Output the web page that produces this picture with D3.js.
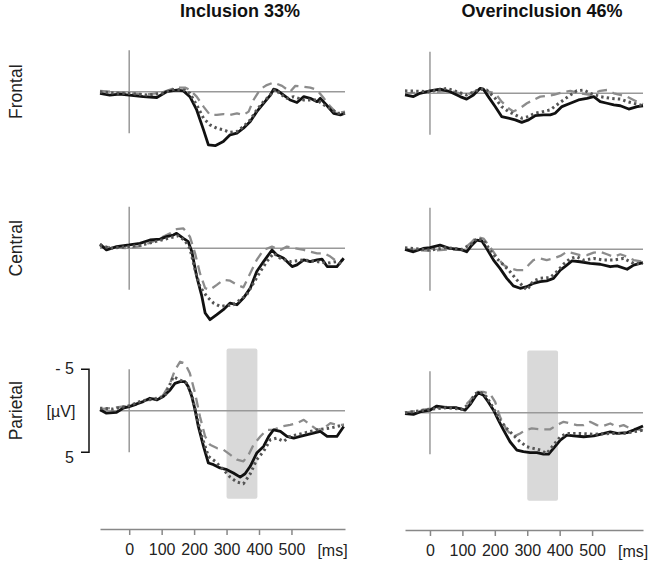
<!DOCTYPE html>
<html>
<head>
<meta charset="utf-8">
<script src="https://cdn.jsdelivr.net/npm/d3@7"></script>
<style>
  body { margin: 0; background: #fff; }
  svg { display: block; font-family: "Liberation Sans", Arial, sans-serif; }
</style>
</head>
<body>
<svg id="chart" width="652" height="566"></svg>
<script>
// columns / rows
var conditions = ["Inclusion 33%", "Overinclusion 46%"];
var regions = ["Frontal", "Central", "Parietal"];
var tickMs = [0, 100, 200, 300, 400, 500];
var window300 = [300, 395];  // shaded window (parietal)

// [ms, µV]; positive = down
// Inclusion
var incFrontalSolid = [[-90,0.2],[-60,0.4],[-30,0.3],[0,0.4],[43,0.6],[85,0.7],[115,0],[146,-0.2],[167,-0.1],[187,0.6],[208,2.2],[229,4.6],[244,6.4],[265,6.5],[290,6.0],[311,5.2],[332,5.0],[352,4.4],[373,3.6],[393,2.4],[414,1.4],[435,0.4],[445,-0.3],[455,-0.2],[476,0.4],[496,1.0],[517,1.3],[538,0.6],[558,0.8],[579,1.2],[589,0.8],[610,1.7],[630,2.6],[651,2.8],[665,2.6]];
var incFrontalDot = [[-90,0],[-40,0.2],[0,0.2],[60,0.4],[100,0.2],[140,-0.3],[170,-0.2],[187,0.2],[208,1.6],[229,3.2],[249,4.0],[270,4.4],[290,4.6],[311,4.9],[332,4.8],[352,4.2],[373,3.4],[393,2.2],[414,1.2],[435,0.4],[450,-0.3],[466,0.3],[486,0.8],[507,0.6],[538,1.0],[579,1.0],[600,1.6],[620,2.0],[640,2.6],[665,2.6]];
var incFrontalDash = [[-90,-0.1],[0,0.2],[60,0.3],[100,0.1],[146,-0.5],[172,-0.5],[187,-0.2],[208,0.6],[229,1.8],[249,2.8],[270,2.8],[290,2.7],[311,2.8],[332,2.6],[352,2.8],[368,2.4],[383,1.0],[404,-0.3],[424,-0.8],[445,-1.1],[471,-0.7],[496,0],[512,-0.7],[538,-0.6],[558,-0.5],[579,-0.2],[600,0.8],[620,1.8],[640,2.6],[665,2.4]];

var incCentralSolid = [[-90,-0.5],[-70,0.2],[-39,-0.2],[0,-0.4],[33,-0.6],[64,-1.0],[95,-1.1],[115,-1.4],[136,-1.6],[146,-1.8],[167,-1.2],[182,-0.8],[193,0.4],[208,3.4],[224,5.8],[234,7.8],[249,8.6],[270,8.0],[290,7.4],[311,6.6],[332,6.8],[352,6.0],[373,4.8],[393,2.8],[414,1.6],[440,0.2],[455,0.8],[476,1.2],[502,2.2],[517,2.0],[538,1.4],[558,1.6],[579,1.4],[594,1.3],[610,2.2],[640,2.2],[661,1.2]];
var incCentralDot = [[-90,-0.4],[-60,0],[0,-0.2],[40,-0.4],[80,-0.8],[120,-1.2],[150,-1.5],[170,-1.0],[187,0],[203,2.6],[218,4.6],[239,5.8],[260,6.6],[280,7.0],[301,6.9],[321,6.8],[342,6.2],[362,5.6],[383,4.2],[404,2.8],[424,1.6],[445,0.6],[466,1.2],[496,1.6],[538,1.4],[579,1.6],[610,1.8],[640,1.6],[661,2.0]];
var incCentralDash = [[-90,-0.2],[0,0],[40,-0.3],[85,-1.0],[126,-1.8],[146,-2.3],[167,-2.4],[187,-1.4],[203,0.6],[218,3.0],[234,4.8],[249,5.0],[270,4.4],[290,3.8],[311,3.9],[332,4.4],[352,4.7],[373,3.0],[393,1.4],[414,0.2],[440,-0.2],[466,0.2],[486,-0.2],[512,0],[538,0.2],[558,0.4],[579,0.6],[600,0.6],[620,1.0],[640,1.6],[661,1.4]];

var incParietalSolid = [[-90,-0.1],[-70,0.3],[-39,0.2],[-19,-0.3],[0,-0.5],[23,-0.8],[43,-1.1],[64,-1.5],[85,-1.3],[105,-1.7],[126,-2.5],[141,-3.3],[157,-3.5],[172,-3.5],[182,-2.9],[193,-1.7],[203,-0.1],[213,1.9],[229,4.3],[244,6.3],[260,6.5],[280,6.9],[301,7.1],[321,7.5],[342,8.0],[357,7.6],[373,6.7],[393,5.1],[414,4.3],[430,3.1],[445,2.3],[466,2.5],[486,3.1],[507,3.3],[527,3.1],[558,2.8],[589,2.5],[610,3.1],[640,3.1],[661,1.9]];
var incParietalDot = [[-90,-0.3],[-50,-0.2],[0,-0.6],[40,-1.2],[80,-1.4],[110,-1.8],[136,-4.1],[157,-3.7],[177,-3.3],[193,-1.9],[208,0.7],[224,3.1],[244,5.5],[265,6.1],[290,7.1],[311,8.0],[332,8.6],[352,8.8],[373,7.6],[393,5.9],[414,4.9],[435,3.5],[455,3.3],[476,3.7],[496,3.1],[538,2.7],[579,2.3],[620,2.1],[661,1.7]];
var incParietalDash = [[-90,-0.2],[-40,-0.4],[0,-0.6],[40,-1.1],[80,-1.5],[105,-1.9],[126,-3.3],[141,-4.9],[157,-5.9],[172,-5.7],[187,-4.5],[203,-2.1],[218,0.7],[234,3.1],[249,4.1],[270,4.5],[290,4.7],[311,5.3],[332,5.9],[352,6.1],[368,5.3],[383,4.1],[404,3.1],[424,2.3],[445,2.3],[471,1.9],[496,1.7],[517,1.5],[538,1.1],[558,1.7],[579,2.3],[600,2.1],[620,1.5],[640,1.7],[661,1.7]];

// Overinclusion
var overFrontalSolid = [[-77,0.2],[-51,0.4],[-31,0],[0,-0.3],[31,-0.5],[62,-0.2],[93,0.4],[113,0.7],[134,0.2],[155,-0.6],[165,-0.5],[180,0.4],[201,1.6],[221,2.8],[242,3.0],[263,3.2],[283,3.5],[304,3.2],[324,2.7],[350,2.6],[371,2.6],[386,2.4],[407,1.6],[433,1.2],[458,0.8],[484,0.6],[505,0.4],[525,1.0],[546,1.2],[567,1.4],[587,1.5],[613,1.9],[639,1.6],[657,1.5]];
var overFrontalDot = [[-77,-0.3],[0,-0.2],[52,-0.6],[113,0.2],[155,-0.5],[175,-0.4],[201,0.6],[221,1.6],[242,2.2],[263,2.6],[283,3.0],[304,2.8],[324,2.4],[350,2.2],[371,2.0],[391,1.4],[412,0.8],[433,0.2],[453,-0.3],[474,-0.4],[494,0],[525,0.4],[556,0.6],[587,0.7],[608,1.0],[628,1.2],[657,1.5]];
var overFrontalDash = [[-77,0],[0,-0.1],[60,-0.3],[113,0.2],[155,-0.5],[180,-0.2],[201,0],[221,1.0],[242,1.8],[257,2.2],[278,1.8],[299,1.2],[319,0.8],[340,0.4],[360,0.3],[381,0.2],[407,-0.1],[433,-0.3],[463,0],[494,0.2],[525,-0.3],[546,-0.4],[567,0],[587,0.2],[608,0.4],[628,0.8],[649,1.2],[657,1.3]];

var overCentralSolid = [[-77,0],[-51,0.3],[-21,-0.1],[0,-0.2],[31,-0.5],[62,-0.1],[93,0],[113,0.3],[129,-0.5],[144,-1.1],[160,-1.0],[175,-0.1],[196,1.3],[216,2.3],[237,3.5],[257,4.4],[278,4.7],[299,4.5],[319,4.1],[340,3.9],[360,3.8],[381,3.5],[402,2.5],[422,1.9],[438,1.4],[463,1.5],[494,1.7],[525,1.8],[556,2.1],[577,2.0],[608,2.4],[628,1.9],[657,1.6]];
var overCentralDot = [[-77,-0.2],[0,0.1],[50,-0.2],[100,0],[129,-0.7],[144,-1.3],[165,-1.1],[185,0.1],[206,1.1],[227,1.9],[247,2.7],[268,3.7],[288,4.5],[299,4.9],[319,3.8],[340,3.5],[371,3.4],[391,2.7],[412,1.8],[433,1.1],[453,0.9],[474,1.3],[505,1.1],[535,1.3],[566,1.3],[597,1.1],[628,1.7],[657,1.7]];
var overCentralDash = [[-77,0],[0,0.2],[60,0],[100,0.1],[124,-0.7],[144,-1.5],[165,-1.3],[185,-0.3],[206,0.9],[227,1.9],[247,2.3],[268,2.5],[288,2.5],[304,1.9],[319,1.3],[340,1.1],[360,1.3],[381,1.1],[402,0.8],[422,0.3],[443,0.5],[463,0.7],[484,0.7],[505,0.4],[525,0.3],[546,0.6],[566,0.9],[587,0.6],[608,0.9],[628,1.3],[657,1.5]];

var overParietalSolid = [[-77,0.1],[-51,0.2],[-31,-0.1],[0,-0.3],[21,-0.8],[52,-0.6],[82,-0.6],[108,-0.3],[124,-1.0],[139,-1.9],[149,-2.4],[165,-2.1],[180,-1.3],[196,-0.3],[211,0.9],[227,2.1],[247,3.5],[268,4.5],[288,4.7],[309,4.8],[330,4.8],[350,5.0],[366,5.0],[381,4.3],[402,3.3],[422,2.7],[443,2.8],[474,2.9],[505,2.8],[525,2.6],[556,2.3],[577,2.5],[608,2.4],[628,2.1],[657,1.6]];
var overParietalDot = [[-77,0],[0,-0.4],[50,-0.6],[100,-0.4],[124,-1.2],[139,-2.3],[155,-2.5],[175,-1.9],[196,-0.5],[216,0.9],[237,1.9],[257,2.7],[278,3.5],[299,4.1],[319,4.3],[340,4.5],[360,4.9],[381,3.9],[402,2.9],[422,2.5],[463,2.5],[505,2.6],[556,2.5],[597,2.5],[628,2.3],[657,2.1]];
var overParietalDash = [[-77,0],[0,-0.5],[50,-0.7],[100,-0.5],[124,-1.5],[144,-2.5],[165,-2.5],[185,-2.3],[201,-1.3],[216,0.5],[237,2.1],[257,2.9],[278,2.5],[294,2.1],[314,1.9],[340,2.0],[371,2.0],[391,1.5],[412,1.1],[433,1.3],[453,1.5],[474,1.5],[494,1.1],[515,1.5],[535,1.6],[556,1.3],[577,1.7],[597,1.5],[618,1.9],[638,2.0],[657,2.1]];

var series = [
  [[incFrontalDash, incFrontalSolid, incFrontalDot],
   [incCentralDash, incCentralSolid, incCentralDot],
   [incParietalDash, incParietalSolid, incParietalDot]],
  [[overFrontalDash, overFrontalSolid, overFrontalDot],
   [overCentralDash, overCentralSolid, overCentralDot],
   [overParietalDash, overParietalSolid, overParietalDot]]
];

// layout
var svg = d3.select("#chart");
var cols = [
  { domain: [-90, 665], range: [100, 345], title: 240, base: [91.7, 248.3, 410.7], axisY: 529 },
  { domain: [-77, 657], range: [405, 643], title: 542, base: [93.3, 249.3, 412.7], axisY: 530 }
];
var pxPerUV = 8.3;
var styles = [
  { stroke: "#8c8c8c", width: 2.3, dash: "10,6" },
  { stroke: "#111", width: 2.8, dash: null },
  { stroke: "#555", width: 3, dash: "2.4,3.2" }
];

cols.forEach(function (c, ci) {
  var x = d3.scaleLinear().domain(c.domain).range(c.range);

  svg.append("text")
    .attr("x", c.title).attr("y", 17)
    .attr("text-anchor", "middle")
    .style("font-weight", "bold").style("font-size", "18px").style("fill", "#111")
    .text(conditions[ci]);

  c.base.forEach(function (b, ri) {
    var y = d3.scaleLinear().domain([-5, 5]).range([b - 5 * pxPerUV, b + 5 * pxPerUV]);
    var g = svg.append("g");

    if (ri == 2) {
      g.append("rect")
        .attr("x", x(window300[0])).attr("width", x(window300[1]) - x(window300[0]))
        .attr("y", y(-7.5)).attr("height", y(10.6) - y(-7.5))
        .attr("rx", 2)
        .style("fill", "#d9d9d9");
    }

    // zero lines
    g.append("line")
      .attr("x1", x(c.domain[0])).attr("x2", x(c.domain[1]))
      .attr("y1", y(0)).attr("y2", y(0))
      .style("stroke", "#999").style("stroke-width", 1.5);
    g.append("line")
      .attr("x1", x(0)).attr("x2", x(0))
      .attr("y1", y(-5)).attr("y2", y(5))
      .style("stroke", "#999").style("stroke-width", 1.5);

    var line = d3.line()
      .x(function (d) { return x(d[0]); })
      .y(function (d) { return y(d[1]); });

    series[ci][ri].forEach(function (s, si) {
      var st = styles[si];
      g.append("path")
        .datum(s)
        .attr("d", line)
        .style("fill", "none")
        .style("stroke", st.stroke)
        .style("stroke-width", st.width)
        .style("stroke-linejoin", "round")
        .style("stroke-dasharray", st.dash);
    });

    // scale bar on the first column, parietal row
    if (ci == 0 && ri == 2) {
      var sb = svg.append("g").style("font-size", "16px").style("fill", "#222");
      sb.append("path")
        .attr("d", "M81," + y(-5) + "H89V" + y(5) + "H81")
        .style("fill", "none").style("stroke", "#111").style("stroke-width", 1.5);
      sb.append("text").attr("x", 74).attr("y", y(-5) + 5).attr("text-anchor", "end").text("- 5");
      sb.append("text").attr("x", 61).attr("y", y(0) + 6).attr("text-anchor", "middle").text("[µV]");
      sb.append("text").attr("x", 74).attr("y", y(5) + 11).attr("text-anchor", "end").text("5");
    }

    if (ci == 0) {
      svg.append("text")
        .attr("transform", "translate(22," + b + ") rotate(-90)")
        .attr("text-anchor", "middle")
        .style("font-size", "17.5px").style("fill", "#222")
        .text(regions[ri]);
    }
  });

  // time axis
  var ax = svg.append("g")
    .attr("transform", "translate(0," + c.axisY + ")")
    .call(d3.axisBottom(x).tickValues(tickMs).tickSize(6).tickSizeOuter(0).tickPadding(9));
  ax.select(".domain").style("stroke", "#888").style("stroke-width", 1.5);
  ax.selectAll(".tick line").style("stroke", "#888").style("stroke-width", 1.5);
  ax.selectAll(".tick text")
    .style("font-size", "16px").style("fill", "#222")
    .style("font-family", "'Liberation Sans', Arial, sans-serif");
  svg.append("text")
    .attr("x", x(580)).attr("y", c.axisY + 27)
    .style("font-size", "16px").style("fill", "#222")
    .text("[ms]");
});
</script>
</body>
</html>
